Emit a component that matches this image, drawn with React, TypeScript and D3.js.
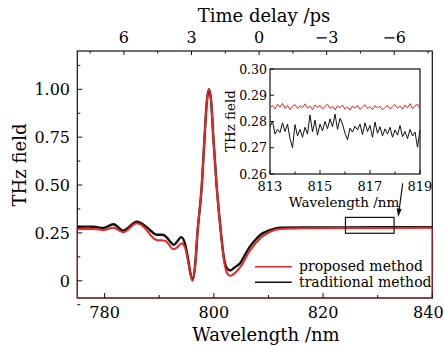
import * as d3 from "d3";

// main curves
const blackWl = [775, 777, 778, 779.8, 781.6, 783.4, 785.9, 787.7, 788.5, 789.5, 790.5, 791.1, 792, 792.7, 793.3, 794.0, 794.7, 795.3, 795.6, 796.1, 796.6, 797.0, 797.8, 798.3, 798.7, 799.1, 799.5, 799.9, 800.5, 801.3, 801.9, 802.4, 803, 803.8, 804.8, 805.7, 806.6, 807.5, 808.5, 810.3, 812.1, 816.4, 823.7, 830, 840];
const blackVal = [0.282, 0.283, 0.282, 0.276, 0.295, 0.262, 0.308, 0.28, 0.26, 0.24, 0.24, 0.234, 0.205, 0.188, 0.205, 0.228, 0.196, 0.11, 0.056, 0.005, 0.09, 0.25, 0.5, 0.75, 0.93, 1.0, 0.94, 0.75, 0.5, 0.25, 0.11, 0.065, 0.054, 0.07, 0.091, 0.135, 0.178, 0.21, 0.239, 0.265, 0.277, 0.279, 0.279, 0.28, 0.28];

const redWl = [775, 777.9, 779.8, 781.6, 783.4, 785.9, 787.7, 788.5, 789.5, 791.1, 792.6, 793.3, 794.1, 794.7, 795.3, 795.6, 796.1, 796.6, 797.0, 797.8, 798.3, 798.7, 799.1, 799.5, 799.9, 800.5, 801.3, 801.9, 802.4, 803, 804, 804.8, 806.6, 808.5, 810.3, 812.1, 816.4, 823.7, 830, 840];
const redVal = [0.27, 0.27, 0.265, 0.277, 0.253, 0.3, 0.265, 0.235, 0.213, 0.209, 0.164, 0.175, 0.196, 0.175, 0.1, 0.05, 0.0, 0.085, 0.25, 0.5, 0.75, 0.93, 1.0, 0.94, 0.75, 0.5, 0.25, 0.1, 0.04, 0.026, 0.045, 0.07, 0.157, 0.222, 0.256, 0.27, 0.274, 0.276, 0.276, 0.277];

// inset, 813-819 nm every 0.1 nm
const insetRed = [0.2852, 0.2861, 0.2848, 0.2866, 0.2855, 0.2869, 0.285, 0.2862, 0.2846, 0.2858,
  0.2864, 0.2849, 0.286, 0.2853, 0.2867, 0.2851, 0.2859, 0.2845, 0.2863, 0.2854,
  0.2861, 0.2848, 0.2857, 0.2866, 0.285, 0.2858, 0.2844, 0.286, 0.2852, 0.2863,
  0.2847, 0.2856, 0.2843, 0.2859, 0.2851, 0.2862, 0.2846, 0.2855, 0.2864, 0.2849,
  0.2857, 0.2845, 0.286, 0.2852, 0.2858, 0.2844, 0.2854, 0.2861, 0.2848, 0.2856,
  0.2865, 0.285, 0.2859, 0.2847, 0.2863, 0.2852, 0.2868, 0.2849, 0.286, 0.2866, 0.2848];
const insetBlack = [0.278, 0.28, 0.2752, 0.277, 0.2758, 0.2795, 0.2762, 0.279, 0.2735, 0.27,
  0.2788, 0.2745, 0.277, 0.274, 0.2778, 0.2752, 0.2825, 0.276, 0.2805, 0.2748,
  0.279, 0.2765, 0.28, 0.2772, 0.281, 0.278, 0.2828, 0.277, 0.2812, 0.279,
  0.2755, 0.273, 0.2775, 0.276, 0.2782, 0.2768, 0.279, 0.275, 0.2795, 0.2762,
  0.2785, 0.274, 0.2798, 0.2755, 0.278, 0.2745, 0.2772, 0.2752, 0.2778, 0.274,
  0.2768, 0.2748, 0.2785, 0.2742, 0.2762, 0.2735, 0.277, 0.2745, 0.276, 0.2702, 0.2768];
const insetWl = d3.range(insetBlack.length).map((i) => 813 + i * 0.1);

const xTicks = [780, 800, 820, 840];
const xMinor = [790, 810, 830];
const yTicks = [0, 0.25, 0.5, 0.75, 1.0];
const yLabels = ["0", "0.25", "0.50", "0.75", "1.00"];
const yMinor = [-0.125, 0.125, 0.375, 0.625, 0.875, 1.125];
const tTicks = [6, 3, 0, -3, -6];
const tMinor = [7.5, 4.5, 1.5, -1.5, -4.5, -7.5];
const insetYTicks = [0.26, 0.27, 0.28, 0.29, 0.3];
const insetXTicks = [813, 815, 817, 819];
const insetXMinor = [814, 816, 818];
const legendItems = [
  { label: "proposed method", color: "#f02424" },
  { label: "traditional method", color: "#111" },
];

const font = "'DejaVu Serif', serif";
const RED = "#f02424";

export default function App() {
  const x = d3.scaleLinear().domain([775, 840]).range([77.3, 432.3]);
  const y = d3.scaleLinear().domain([-0.09, 1.2]).range([298, 51]);
  const t = d3.scaleLinear().domain([8.07, -7.69]).range([77.3, 432.3]);

  const ix = d3.scaleLinear().domain([813, 819]).range([270, 420]);
  const iy = d3.scaleLinear().domain([0.26, 0.3]).range([174, 69]);

  const line = d3.line<[number, number]>()
    .x((d) => x(d[0]))
    .y((d) => y(d[1]))
    .curve(d3.curveMonotoneX);
  const iline = d3.line<[number, number]>()
    .x((d) => ix(d[0]))
    .y((d) => iy(d[1]));

  const blackPts = blackWl.map((w, i) => [w, blackVal[i]] as [number, number]);
  const redPts = redWl.map((w, i) => [w, redVal[i]] as [number, number]);

  const [x0, x1] = x.range();
  const [yb, yt] = y.range();

  return (
    <svg width={444} height={346} style={{ position: "absolute", left: 0, top: 0, background: "#fff" }} fontFamily={font}>
      {/* curves */}
      <path d={line(blackPts) || ""} fill="none" stroke="#111" strokeWidth={2.4} />
      <path d={line(redPts) || ""} fill="none" stroke={RED} strokeWidth={2} />

      {/* frame */}
      <rect x={x0} y={yt} width={x1 - x0} height={yb - yt} fill="none" stroke="#111" strokeWidth={1.2} />
      <path
        d={`M${x0},${y(redVal[0])}V${yb}H${x1}V${y(redVal[redVal.length - 1])}`}
        fill="none" stroke="#a81818" strokeWidth={1.2} />

      {/* bottom axis */}
      {xTicks.map((v) => (
        <g key={"xt" + v}>
          <line x1={x(v)} x2={x(v)} y1={yb} y2={yb - 5} stroke="#111" />
          <text x={v === 840 ? x(v) - 4 : x(v)} y={318} fontSize={16} textAnchor="middle">{v}</text>
        </g>
      ))}
      {xMinor.map((v) => (
        <line key={"xm" + v} x1={x(v)} x2={x(v)} y1={yb} y2={yb - 3} stroke="#111" />
      ))}
      <text x={266} y={341} fontSize={18} textAnchor="middle">Wavelength /nm</text>

      {/* left axis */}
      {yTicks.map((v, i) => (
        <g key={"yt" + v}>
          <line x1={x0} x2={x0 + 5} y1={y(v)} y2={y(v)} stroke="#111" />
          <text x={70} y={y(v) + 6} fontSize={16} textAnchor="end">{yLabels[i]}</text>
        </g>
      ))}
      {yMinor.map((v) => (
        <line key={"ym" + v} x1={x0} x2={x0 + 3} y1={y(v)} y2={y(v)} stroke="#111" />
      ))}
      <text transform={`translate(26,165) rotate(-90)`} fontSize={18} textAnchor="middle">THz field</text>

      {/* top axis */}
      {tTicks.map((v) => (
        <g key={"tt" + v}>
          <line x1={t(v)} x2={t(v)} y1={yt} y2={yt + 4} stroke="#111" />
          <text x={t(v)} y={43} fontSize={16} textAnchor="middle">{v < 0 ? "\u2212" + -v : v}</text>
        </g>
      ))}
      {tMinor.map((v) => (
        <line key={"tm" + v} x1={t(v)} x2={t(v)} y1={yt} y2={yt + 2.5} stroke="#111" />
      ))}
      <text x={264} y={22} fontSize={18} textAnchor="middle">Time delay /ps</text>

      {/* zoom box + arrow */}
      <rect x={x(824.1)} y={y(0.331)} width={x(833) - x(824.1)} height={y(0.248) - y(0.331)} fill="none" stroke="#111" strokeWidth={1.2} />
      <line x1={402.7} y1={183.3} x2={399.3} y2={209} stroke="#111" strokeWidth={1.2} />
      <path d="M396.6,208.2 L398.3,217 L401.6,208.9 Z" fill="#111" />

      {/* inset */}
      <rect x={270} y={69} width={150} height={105} fill="#fff" stroke="#111" strokeWidth={1.2} />
      <path d={iline(insetWl.map((w, i) => [w, insetRed[i]] as [number, number])) || ""} fill="none" stroke={RED} strokeWidth={1} />
      <path d={iline(insetWl.map((w, i) => [w, insetBlack[i]] as [number, number])) || ""} fill="none" stroke="#111" strokeWidth={1} />
      {insetYTicks.map((v) => (
        <g key={"iy" + v}>
          <line x1={270} x2={274} y1={iy(v)} y2={iy(v)} stroke="#111" />
          <text x={267} y={iy(v) + 4.5} fontSize={12.5} textAnchor="end">{v.toFixed(2)}</text>
        </g>
      ))}
      {insetXTicks.map((v) => (
        <g key={"ix" + v}>
          <line x1={ix(v)} x2={ix(v)} y1={174} y2={170} stroke="#111" />
          <text x={ix(v)} y={191} fontSize={13} textAnchor="middle">{v}</text>
        </g>
      ))}
      {insetXMinor.map((v) => (
        <line key={"ixm" + v} x1={ix(v)} x2={ix(v)} y1={174} y2={171.5} stroke="#111" />
      ))}
      <text x={344} y={207} fontSize={13.5} textAnchor="middle">Wavelength /nm</text>
      <text transform={`translate(235,121) rotate(-90)`} fontSize={13.4} textAnchor="middle">THz field</text>

      {/* legend */}
      {legendItems.map((d, i) => (
        <g key={d.label} transform={`translate(0,${i * 15.6})`}>
          <line x1={255} x2={291.7} y1={266.7} y2={266.7} stroke={d.color} strokeWidth={1.6} />
          <text x={299} y={271} fontSize={14}>{d.label}</text>
        </g>
      ))}
    </svg>
  );
}
